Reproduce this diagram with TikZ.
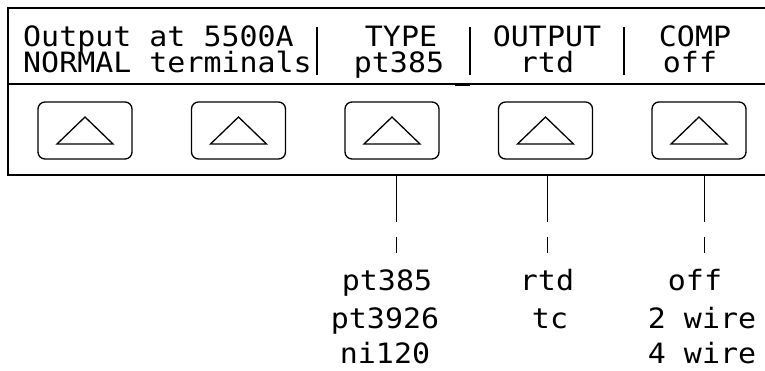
\documentclass[tikz,border=0pt]{standalone}
\usepackage{fontspec}
\newfontfamily\lcd[FakeStretch=1.07]{DejaVu Sans Mono}
\begin{document}
\begin{tikzpicture}[x=1pt,y=-1pt,
  lcdtext/.style={font=\lcd\fontsize{28}{29}\selectfont, inner sep=0pt, text height=21pt, text depth=2pt},
  frame/.style={line width=1.5pt},
  softkey/.style={draw, line width=1.3pt, rounded corners=7pt, minimum width=94pt, minimum height=57pt, inner sep=0pt},
  arrowup/.style={line width=1.3pt, line join=miter},
  sep/.style={line width=1.8pt},
  lead/.style={line width=0.9pt, dash pattern=on 47pt off 15pt on 16pt off 200pt}
]
\useasboundingbox (0,0) rectangle (765,370);
% panel
\draw[frame] (766,8) -- (8,8) -- (8,175) -- (766,175);
\draw[frame] (8,84) -- (766,84);
\draw[line width=2.5pt] (455,85) -- (470,85);
% display text
\node[lcdtext, anchor=base west] (l1) at (23,46) {Output at 5500A};
\node[lcdtext, anchor=base west] (l2) at (23,72) {NORMAL terminals};
\node[lcdtext, anchor=base] (type) at (401,46) {TYPE};
\node[lcdtext, anchor=base] (typev) at (399,72) {pt385};
\node[lcdtext, anchor=base] (outp) at (547,46) {OUTPUT};
\node[lcdtext, anchor=base] (outpv) at (547,72) {rtd};
\node[lcdtext, anchor=base] (comp) at (695,46) {COMP};
\node[lcdtext, anchor=base] (compv) at (690,72) {off};
% separators
\coordinate (s1a) at (317,27); \coordinate (s1b) at (317,75);
\coordinate (s2a) at (470,27); \coordinate (s2b) at (470,75);
\coordinate (s3a) at (624,27); \coordinate (s3b) at (624,75);
\draw[sep] (s1a) -- (s1b);
\draw[sep] (s2a) -- (s2b);
\draw[sep] (s3a) -- (s3b);
% softkeys
\foreach \i/\cx in {1/85,2/238.5,3/392,4/545.5,5/699}{
  \node[softkey] (k\i) at (\cx,130.5) {};
  \draw[arrowup] (\cx-28,144) -- (\cx,117) -- (\cx+28,144) -- cycle;
}
% option lists
\node[lcdtext, anchor=base] (o1a) at (387,290) {pt385};
\node[lcdtext, anchor=base] (o1b) at (385,328) {pt3926};
\node[lcdtext, anchor=base] (o1c) at (385,363) {ni120};
\node[lcdtext, anchor=base] (o2a) at (547,290) {rtd};
\node[lcdtext, anchor=base] (o2b) at (550,328) {tc};
\node[lcdtext, anchor=base] (o3a) at (695,290) {off};
\node[lcdtext, anchor=base] (o3b) at (702,328) {2 wire};
\node[lcdtext, anchor=base] (o3c) at (702,363) {4 wire};
% leaders
\coordinate (t1) at (396,175); \coordinate (b1) at (396,253);
\coordinate (t2) at (547,175); \coordinate (b2) at (547,253);
\coordinate (t3) at (704,175); \coordinate (b3) at (704,253);
\draw[lead] (t1) -- (b1);
\draw[lead] (t2) -- (b2);
\draw[lead] (t3) -- (b3);
\end{tikzpicture}
\end{document}
